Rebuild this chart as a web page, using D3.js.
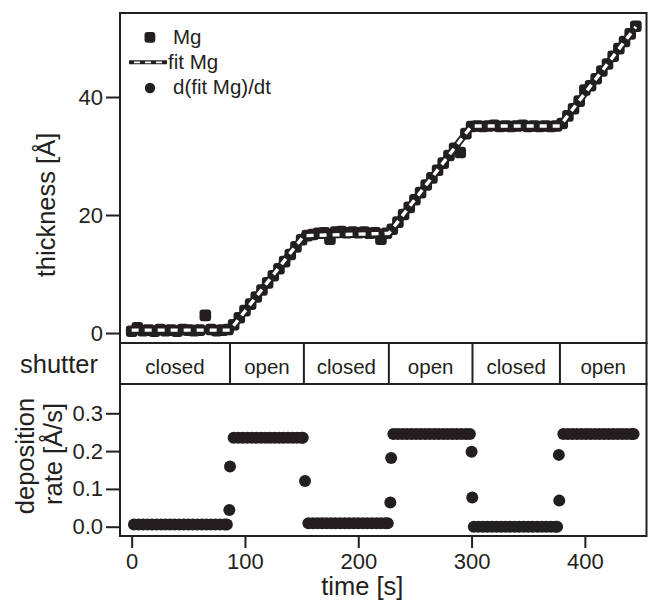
<!DOCTYPE html>
<html>
<head>
<meta charset="utf-8">
<script src="https://cdn.jsdelivr.net/npm/d3@7"></script>
<style>
  body { margin: 0; background: #fff; }
  text { font-family: "Liberation Sans", Arial, sans-serif; fill: #231f20; }
</style>
</head>
<body>
<svg id="chart" width="651" height="603"></svg>
<script>
"use strict";

// measured thickness, [time s, thickness A]
var mgPoints = [
  [0,0.3],[5,0.9],[10,0.4],[15,0.5],[20,0.3],[25,0.6],[30,0.4],[35,0.5],[40,0.3],[45,0.6],
  [50,0.5],[55,0.4],[60,0.5],[65,3.0],[70,0.6],[75,0.4],[80,0.5],[85,0.6],
  [90,1.4],[95,2.6],[100,3.8],[105,4.9],[110,6.1],[115,7.3],[120,8.5],[125,9.7],[130,10.9],
  [135,12.1],[140,13.3],[145,14.6],[150,15.8],
  [155,16.5],[160,16.7],[165,16.9],[170,17.0],[175,15.9],[180,17.1],[185,17.2],[190,17.0],
  [195,17.1],[200,17.0],[205,17.1],[210,16.9],[215,17.0],[220,15.9],[225,16.9],
  [230,17.6],[235,18.8],[240,20.1],[245,21.3],[250,22.6],[255,23.8],[260,25.1],[265,26.3],
  [270,27.6],[275,28.8],[280,30.1],[285,31.3],[290,30.6],[295,33.8],[300,35.0],
  [305,35.1],[310,35.0],[315,35.1],[320,35.2],[325,35.0],[330,35.1],[335,35.0],[340,35.1],
  [345,35.2],[350,35.0],[355,35.1],[360,35.0],[365,35.1],[370,35.0],[375,35.1],
  [380,35.5],[385,36.8],[390,38.0],[395,39.3],[400,41.2],[405,41.9],[410,43.1],[415,44.4],
  [420,45.6],[425,46.9],[430,48.2],[435,49.4],[440,50.7],[445,52.0]
];

// fitted thickness, [time s, thickness A]
var fitPoints = [[0,0.5],[87,0.5],[152,16.5],[227,16.9],[300,35.1],[378,35.1],[445,51.9]];

// d(fit)/dt, [time s, rate A/s]
var ratePoints = [
  [2,0.006],[6,0.006],[10,0.006],[14,0.006],[18,0.006],[22,0.006],[26,0.006],[30,0.006],
  [34,0.006],[38,0.006],[42,0.006],[46,0.006],[50,0.006],[54,0.006],[58,0.006],[62,0.006],
  [66,0.006],[70,0.006],[74,0.006],[78,0.006],[82,0.006],[84,0.006],
  [86.2,0.044],[86.8,0.159],
  [90,0.235],[94,0.235],[98,0.235],[102,0.235],[106,0.235],[110,0.235],[114,0.235],[118,0.235],
  [122,0.235],[126,0.235],[130,0.235],[134,0.235],[138,0.235],[142,0.235],[146,0.235],[150,0.235],
  [151,0.235],
  [153,0.121],
  [156,0.009],[160,0.009],[164,0.009],[168,0.009],[172,0.009],[176,0.009],[180,0.009],[184,0.009],
  [188,0.009],[192,0.009],[196,0.009],[200,0.009],[204,0.009],[208,0.009],[212,0.009],[216,0.009],
  [220,0.009],[224,0.009],[226,0.009],
  [228.3,0.064],[229,0.182],
  [231,0.245],[235,0.245],[239,0.245],[243,0.245],[247,0.245],[251,0.245],[255,0.245],[259,0.245],
  [263,0.245],[267,0.245],[271,0.245],[275,0.245],[279,0.245],[283,0.245],[287,0.245],[291,0.245],
  [295,0.245],[298.5,0.245],
  [300,0.198],[300.6,0.077],
  [302,0.0],[306,0.0],[310,0.0],[314,0.0],[318,0.0],[322,0.0],[326,0.0],[330,0.0],
  [334,0.0],[338,0.0],[342,0.0],[346,0.0],[350,0.0],[354,0.0],[358,0.0],[362,0.0],
  [366,0.0],[370,0.0],[374,0.0],[375.5,0.0],
  [377,0.190],[377.4,0.069],
  [381,0.245],[385,0.245],[389,0.245],[393,0.245],[397,0.245],[401,0.245],[405,0.245],[409,0.245],
  [413,0.245],[417,0.245],[421,0.245],[425,0.245],[429,0.245],[433,0.245],[437,0.245],[441,0.245],
  [443,0.245]
];

var shutterSwitch = [86.8, 152, 227, 300.8, 378];
var shutterLabels = ["closed", "open", "closed", "open", "closed", "open"];

var thicknessTicks = [0, 20, 40];
var rateTicks = [0, 0.1, 0.2, 0.3];
var timeTicks = [0, 100, 200, 300, 400];

var ink = "#231f20";
var left = 120, right = 646.5;
var topTop = 13, shutterTop = 343, shutterBottom = 384, rateBottom = 536;
var mgSize = 11.6;

var svg = d3.select("#chart");

var x = d3.scaleLinear().domain([-10.3, 454.4]).range([left, right]);
var yThick = d3.scaleLinear().domain([-1.69, 54.24]).range([shutterTop, topTop]);
var yRate = d3.scaleLinear().domain([-0.0246, 0.3775]).range([rateBottom, shutterBottom]);

// ---- top panel: thickness
var gTop = svg.append("g");
gTop.selectAll("rect.mg")
  .data(mgPoints)
  .enter().append("rect")
  .attr("class", "mg")
  .attr("x", function (d) { return x(d[0]) - mgSize / 2; })
  .attr("y", function (d) { return yThick(d[1]) - mgSize / 2; })
  .attr("width", mgSize).attr("height", mgSize)
  .attr("rx", 3)
  .attr("fill", ink);

var fitLine = d3.line()
  .x(function (d) { return x(d[0]); })
  .y(function (d) { return yThick(d[1]); });

gTop.append("path").datum(fitPoints)
  .attr("d", fitLine).attr("fill", "none")
  .attr("stroke", ink).attr("stroke-width", 7).attr("stroke-linejoin", "round");
gTop.append("path").datum(fitPoints)
  .attr("d", fitLine).attr("fill", "none")
  .attr("stroke", "#fff").attr("stroke-width", 3.4)
  .attr("stroke-dasharray", "7,6");

// ---- bottom panel: rate
svg.append("g").selectAll("circle")
  .data(ratePoints)
  .enter().append("circle")
  .attr("cx", function (d) { return x(d[0]); })
  .attr("cy", function (d) { return yRate(d[1]); })
  .attr("r", 6)
  .attr("fill", ink);

// ---- frames
function frame(y0, y1) {
  svg.append("rect")
    .attr("x", left).attr("y", y0)
    .attr("width", right - left).attr("height", y1 - y0)
    .attr("fill", "none").attr("stroke", ink).attr("stroke-width", 2);
}
frame(topTop, shutterTop);
frame(shutterTop, shutterBottom);
frame(shutterBottom, rateBottom);

// shutter cells
var edges = [x.domain()[0]].concat(shutterSwitch, [x.domain()[1]]);
svg.selectAll("line.shut")
  .data(shutterSwitch)
  .enter().append("line")
  .attr("class", "shut")
  .attr("x1", function (d) { return x(d); }).attr("x2", function (d) { return x(d); })
  .attr("y1", shutterTop).attr("y2", shutterBottom)
  .attr("stroke", ink).attr("stroke-width", 2);

svg.selectAll("text.shut")
  .data(shutterLabels)
  .enter().append("text")
  .attr("class", "shut")
  .attr("x", function (d, i) { return (x(edges[i]) + x(edges[i + 1])) / 2; })
  .attr("y", 374)
  .attr("text-anchor", "middle")
  .style("font-size", "20.5px")
  .text(function (d) { return d; });

// ---- axes
function styleAxis(g) {
  g.select(".domain").remove();
  g.selectAll(".tick line").attr("stroke", ink).attr("stroke-width", 2);
  g.selectAll(".tick text").style("font-size", "22px").attr("fill", ink);
}

svg.append("g")
  .attr("transform", "translate(" + left + ",0)")
  .call(d3.axisLeft(yThick).tickValues(thicknessTicks).tickSize(14).tickPadding(3))
  .call(styleAxis)
  .attr("font-family", null);

svg.append("g")
  .attr("transform", "translate(" + left + ",0)")
  .call(d3.axisLeft(yRate).tickValues(rateTicks).tickSize(14).tickPadding(3).tickFormat(d3.format(".1f")))
  .call(styleAxis)
  .attr("font-family", null);

svg.append("g")
  .attr("transform", "translate(0," + rateBottom + ")")
  .call(d3.axisBottom(x).tickValues(timeTicks).tickSize(12).tickPadding(5))
  .call(styleAxis)
  .attr("font-family", null);

// ---- axis titles
svg.append("text")
  .attr("transform", "translate(55,205) rotate(-90)")
  .attr("text-anchor", "middle")
  .style("font-size", "25.5px")
  .text("thickness [Å]");

svg.append("text")
  .attr("transform", "translate(34,456) rotate(-90)")
  .attr("text-anchor", "middle")
  .style("font-size", "25.5px")
  .text("deposition");

svg.append("text")
  .attr("transform", "translate(62,454) rotate(-90)")
  .attr("text-anchor", "middle")
  .style("font-size", "25.5px")
  .text("rate [Å/s]");

svg.append("text")
  .attr("x", 20).attr("y", 373)
  .style("font-size", "25.5px")
  .text("shutter");

svg.append("text")
  .attr("x", (x(0) + x(400)) / 2 + 4).attr("y", 595)
  .attr("text-anchor", "middle")
  .style("font-size", "25.5px")
  .text("time [s]");

// ---- legend
var lg = svg.append("g");
lg.append("rect")
  .attr("x", 144.5).attr("y", 32).attr("width", 10.8).attr("height", 10.8)
  .attr("rx", 3).attr("fill", ink);
lg.append("line")
  .attr("x1", 129).attr("x2", 167).attr("y1", 62.3).attr("y2", 62.3)
  .attr("stroke", ink).attr("stroke-width", 4);
lg.append("line")
  .attr("x1", 129).attr("x2", 167).attr("y1", 62.3).attr("y2", 62.3)
  .attr("stroke", "#fff").attr("stroke-width", 1.8)
  .attr("stroke-dasharray", "6,5").attr("stroke-dashoffset", -5);
lg.append("circle")
  .attr("cx", 150).attr("cy", 88).attr("r", 5.2).attr("fill", ink);

lg.append("text").attr("x", 173).attr("y", 44).style("font-size", "20.5px").text("Mg");
lg.append("text").attr("x", 168).attr("y", 69).style("font-size", "20.5px").text("fit Mg");
lg.append("text").attr("x", 173).attr("y", 94).style("font-size", "20.5px").text("d(fit Mg)/dt");
</script>
</body>
</html>
